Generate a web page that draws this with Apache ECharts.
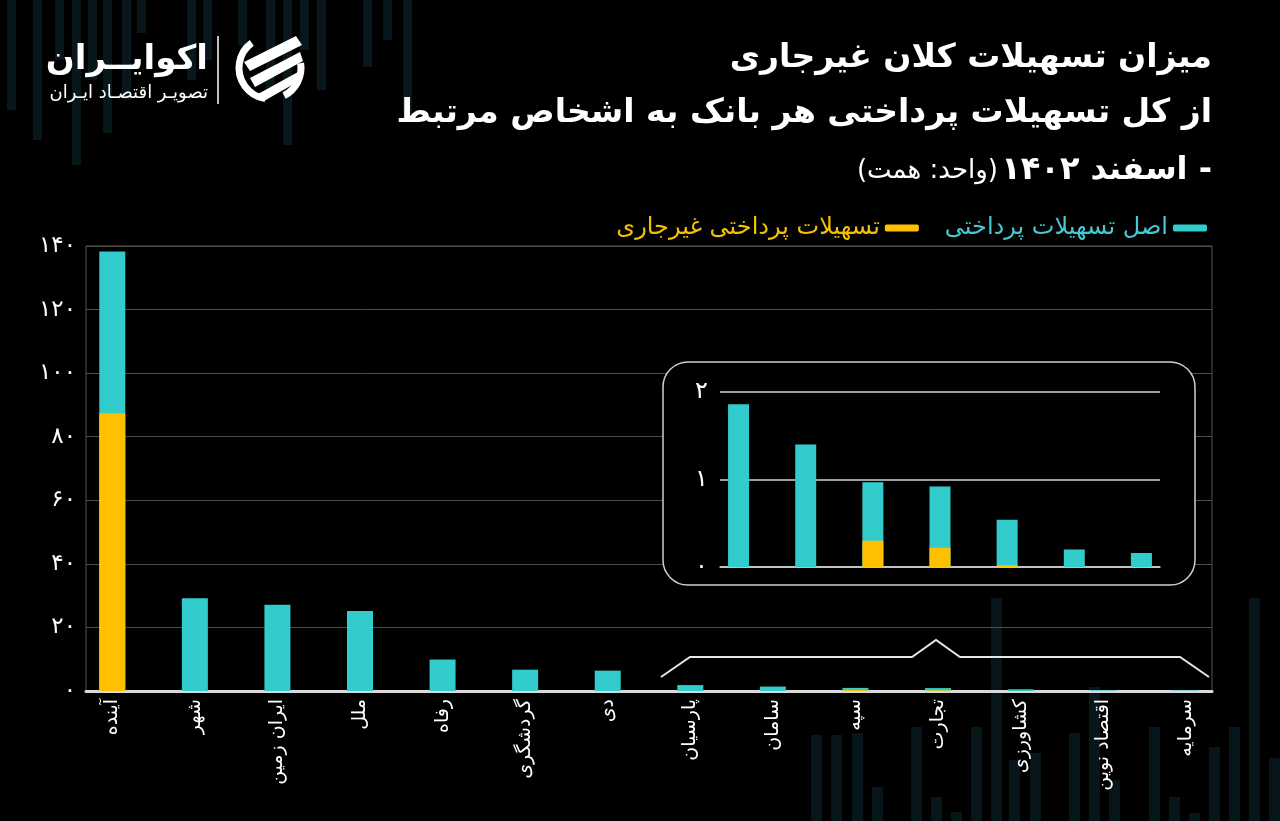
<!DOCTYPE html>
<html>
<head>
<meta charset="utf-8">
<script src="https://cdn.jsdelivr.net/npm/echarts@6/dist/echarts.min.js"></script>
<style>
  html, body { margin: 0; padding: 0; background: #000; }
  #chart { width: 1280px; height: 821px; }
</style>
</head>
<body>
<div id="chart"></div>
<script>
// banks (bars are drawn left to right in this order)
const banks = ['آینده', 'شهر', 'ایران زمین', 'ملل', 'رفاه', 'گردشگری', 'دی',
  'پارسیان', 'سامان', 'سپه', 'تجارت', 'کشاورزی', 'اقتصاد نوین', 'سرمایه']
// اصل تسهیلات پرداختی (همت)
const totalLoans = [138.3, 29.2, 27.1, 25.2, 9.9, 6.7, 6.4, 1.86, 1.40, 0.97, 0.92, 0.54, 0.20, 0.16]
// تسهیلات پرداختی غیرجاری (همت)
const nonCurrentLoans = [87.4, 0, 0, 0, 0, 0, 0, 0, 0, 0.30, 0.22, 0.02, 0, 0]
// the small banks shown again in the zoomed box
const insetStart = 7
const mainYTicks = ['۰', '۲۰', '۴۰', '۶۰', '۸۰', '۱۰۰', '۱۲۰', '۱۴۰']
const insetYTicks = ['۰', '۱', '۲']

const totalName = 'اصل تسهیلات پرداختی'
const nonCurrentName = 'تسهیلات پرداختی غیرجاری'
const TEAL = '#33cccc'
const YELLOW = '#ffc000'
const FONT = '"DejaVu Sans", sans-serif'

// faint decoration in the background (not data)
const decoBottom = [[811, 735], [831, 735], [852, 733], [872, 787], [911, 727], [931, 797], [951, 812],
  [971, 727], [991, 598], [1009, 760], [1030, 753], [1069, 733], [1089, 687], [1109, 780], [1149, 727],
  [1169, 797], [1189, 813], [1209, 747], [1229, 727], [1249, 598], [1269, 758]]
const decoTop = [[7, 110], [33, 140], [55, 60], [72, 165], [88, 80], [103, 133], [122, 100], [137, 33],
  [187, 80], [203, 60], [238, 45], [266, 90], [283, 145], [300, 50], [317, 90], [363, 67], [383, 40], [403, 120]]

const chart = echarts.init(document.getElementById('chart'))

const graphics = []
decoBottom.forEach(d => graphics.push({
  type: 'rect', z: -10, silent: true,
  shape: { x: d[0], y: d[1], width: 11, height: 821 - d[1] },
  style: { fill: '#06161a' }
}))
decoTop.forEach(d => graphics.push({
  type: 'rect', z: -10, silent: true,
  shape: { x: d[0], y: 0, width: 9, height: d[1] },
  style: { fill: '#07171b' }
}))

// titles
graphics.push(
  { type: 'text', z: 10, style: { text: 'میزان تسهیلات کلان غیرجاری', x: 1212, y: 58, align: 'right', verticalAlign: 'middle', fill: '#fff', font: 'bold 33px ' + FONT } },
  { type: 'text', z: 10, style: { text: 'از کل تسهیلات پرداختی هر بانک به اشخاص مرتبط', x: 1212, y: 113, align: 'right', verticalAlign: 'middle', fill: '#fff', font: 'bold 33px ' + FONT } },
  {
    type: 'text', z: 10,
    style: {
      text: '{u|(واحد: همت)} {b|\u200F- اسفند ۱۴۰۲}', x: 1212, y: 171, align: 'right', verticalAlign: 'middle',
      rich: {
        u: { fill: '#fff', font: '26px ' + FONT, lineHeight: 38, verticalAlign: 'middle' },
        b: { fill: '#fff', font: 'bold 32px ' + FONT, lineHeight: 38, verticalAlign: 'middle' }
      }
    }
  }
)

// logo
graphics.push(
  { type: 'text', z: 10, style: { text: 'اکوایــران', x: 208, y: 60, align: 'right', verticalAlign: 'middle', fill: '#fff', font: 'bold 34px ' + FONT } },
  { type: 'text', z: 10, style: { text: 'تصویـر اقتصـاد ایـران', x: 208, y: 93, align: 'right', verticalAlign: 'middle', fill: '#fff', font: '18px ' + FONT } },
  { type: 'line', z: 10, shape: { x1: 218, y1: 36, x2: 218, y2: 104 }, style: { stroke: '#fff', lineWidth: 1.5 } },
  { type: 'arc', z: 10, shape: { cx: 270, cy: 68, r: 31, startAngle: Math.PI * 0.55, endAngle: Math.PI * 1.3 }, style: { stroke: '#fff', lineWidth: 7, fill: null } },
  { type: 'arc', z: 10, shape: { cx: 270, cy: 68, r: 31, startAngle: -Math.PI * 0.05, endAngle: Math.PI * 0.35 }, style: { stroke: '#fff', lineWidth: 7, fill: null } },
  { type: 'polygon', z: 10, shape: { points: [[244, 62], [296, 36], [302, 45], [250, 71]] }, style: { fill: '#fff' } },
  { type: 'polygon', z: 10, shape: { points: [[250, 78], [300, 52], [303, 61], [255, 87]] }, style: { fill: '#fff' } },
  { type: 'polygon', z: 10, shape: { points: [[258, 94], [298, 72], [299, 81], [264, 101]] }, style: { fill: '#fff' } }
)

// zoom box and bracket
graphics.push(
  { type: 'rect', z: 3, shape: { x: 663, y: 362, width: 532, height: 223, r: 25 }, style: { fill: '#000', stroke: '#cfcfcf', lineWidth: 1.5 } },
  {
    type: 'polyline', z: 3,
    shape: { points: [[661, 677], [690, 657], [912, 657], [936, 640], [960, 657], [1180, 657], [1209, 677]] },
    style: { stroke: '#e6e6e6', lineWidth: 2, fill: null }
  }
)

const insetBanks = banks.slice(insetStart)

const option = {
  backgroundColor: '#000',
  textStyle: { fontFamily: FONT },
  animation: false,
  legend: {
    right: 68,
    top: 211,
    icon: 'roundRect',
    itemWidth: 34,
    itemHeight: 7,
    itemGap: 26,
    align: 'right',
    selectedMode: false,
    textStyle: { fontSize: 24, fontFamily: FONT },
    data: [
      { name: nonCurrentName, textStyle: { color: '#f5c000' } },
      { name: totalName, textStyle: { color: '#45c8d4' } }
    ]
  },
  grid: [
    // main chart: frame and grid lines
    { left: 86, right: 68, top: 246, height: 445, show: true, borderColor: '#555', borderWidth: 1 },
    // main chart: bars
    { left: 71, right: 53, top: 246, height: 445 },
    // zoom box: grid lines
    { left: 720, right: 120, top: 392, height: 175 },
    // zoom box: bars
    { left: 705, right: 105, top: 392, height: 175 }
  ],
  xAxis: [
    {
      gridIndex: 0, type: 'category', data: banks,
      axisLine: { lineStyle: { color: '#d9d9d9', width: 3 } },
      axisTick: { show: false }, axisLabel: { show: false }
    },
    {
      gridIndex: 1, type: 'category', data: banks,
      axisLine: { show: false }, axisTick: { show: false },
      axisLabel: { rotate: 90, interval: 0, color: '#fff', fontSize: 19, margin: 8, fontFamily: FONT }
    },
    {
      gridIndex: 2, type: 'category', data: insetBanks, z: 5,
      axisLine: { lineStyle: { color: '#d0d0d0', width: 1.5 } },
      axisTick: { show: false }, axisLabel: { show: false }
    },
    {
      gridIndex: 3, type: 'category', data: insetBanks, show: false
    }
  ],
  yAxis: [
    {
      gridIndex: 0, type: 'value', min: 0, max: 140, interval: 20,
      axisLine: { show: false }, axisTick: { show: false },
      axisLabel: { color: '#fff', fontSize: 23, margin: 10, fontFamily: FONT, formatter: v => mainYTicks[Math.round(v / 20)] },
      splitLine: { lineStyle: { color: '#4d4d4d', width: 1 } }
    },
    { gridIndex: 1, type: 'value', min: 0, max: 140, show: false },
    {
      gridIndex: 2, type: 'value', min: 0, max: 2, interval: 1, z: 5,
      axisLine: { show: false }, axisTick: { show: false },
      axisLabel: { color: '#fff', fontSize: 24, margin: 12, fontFamily: FONT, formatter: v => insetYTicks[Math.round(v)] },
      splitLine: { lineStyle: { color: '#d0d0d0', width: 1.5 } }
    },
    { gridIndex: 3, type: 'value', min: 0, max: 2, show: false }
  ],
  series: [
    {
      name: totalName, type: 'bar', xAxisIndex: 1, yAxisIndex: 1,
      data: totalLoans, barWidth: 26, barGap: '-100%', itemStyle: { color: TEAL }
    },
    {
      name: nonCurrentName, type: 'bar', xAxisIndex: 1, yAxisIndex: 1,
      data: nonCurrentLoans, barWidth: 26, barGap: '-100%', itemStyle: { color: YELLOW }
    },
    {
      name: totalName, type: 'bar', xAxisIndex: 3, yAxisIndex: 3, z: 6,
      data: totalLoans.slice(insetStart), barWidth: 21, barGap: '-100%', itemStyle: { color: TEAL }
    },
    {
      name: nonCurrentName, type: 'bar', xAxisIndex: 3, yAxisIndex: 3, z: 6,
      data: nonCurrentLoans.slice(insetStart), barWidth: 21, barGap: '-100%', itemStyle: { color: YELLOW }
    }
  ],
  graphic: { elements: graphics }
}

chart.setOption(option)
</script>
</body>
</html>
